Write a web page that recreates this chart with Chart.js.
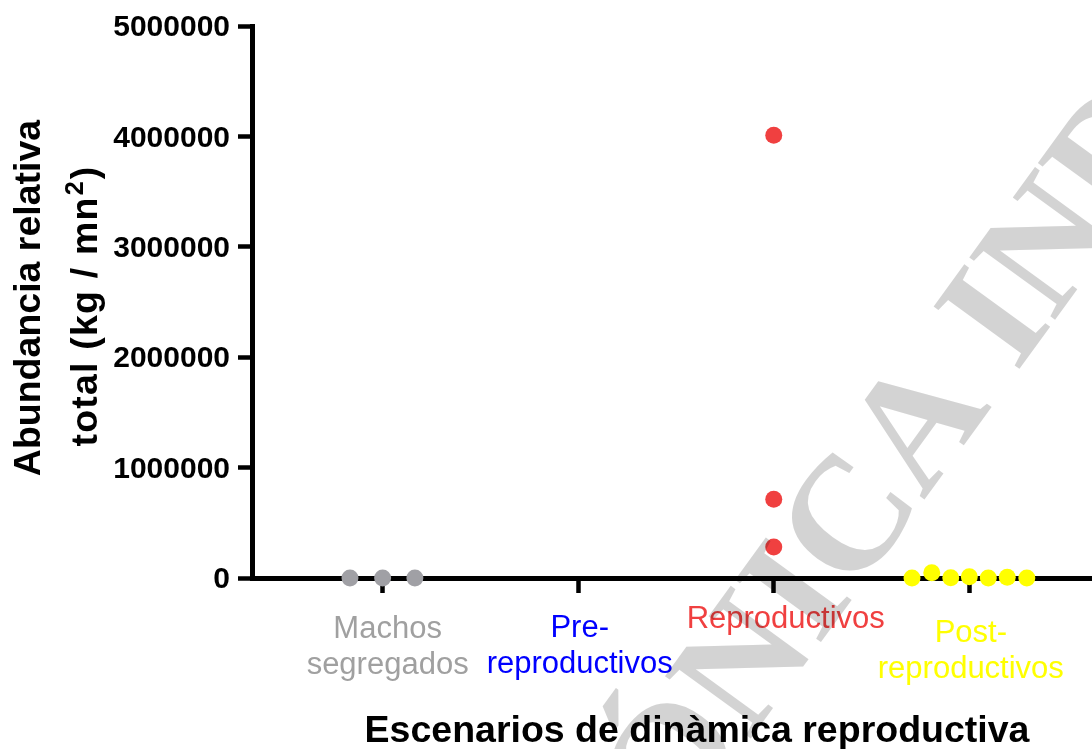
<!DOCTYPE html>
<html lang="es">
<head>
<meta charset="utf-8">
<title>Abundancia relativa total por escenario reproductivo</title>
<script src="https://cdn.jsdelivr.net/npm/chart.js@4/dist/chart.umd.min.js"></script>
<style>
  html, body { margin: 0; padding: 0; background: #ffffff; overflow: hidden; }
  #wrap { width: 1142px; height: 749px; }
  canvas { display: block; }
</style>
</head>
<body>
<div id="wrap"><canvas id="chart" width="1142" height="749"></canvas></div>
<script>
// Scenario categories (x positions 0..3) and their label text
const categories = ['Machos segregados', 'Pre-reproductivos', 'Reproductivos', 'Post-reproductivos'];
const categoryLines = [['Machos', 'segregados'], ['Pre-', 'reproductivos'], ['Reproductivos'], ['Post-', 'reproductivos']];

// Individual observations (x = category index with horizontal jitter, y = kg / mn²)
const machosX = [-0.167, 0, 0.165];
const machosY = [0, 0, 0];
const preX = [];
const preY = [];
const reproX = [2, 2, 2];
const reproY = [4010000, 713000, 281000];
const postX = [2.707, 2.808, 2.905, 3, 3.097, 3.194, 3.294];
const postY = [0, 47000, 2000, 11000, 0, 7000, 0];

// Y axis tick values
const yTicks = [0, 1000000, 2000000, 3000000, 4000000, 5000000];

const seriesColors = ['#a0a0a5', '#0000ff', '#f04040', '#ffff00'];
const labelColors = ['#a0a0a0', '#0000ff', '#f04040', '#ffff00'];
// Per-category label placement: horizontal nudge and first-line baseline below the axis
const labelNudgeX = [5, 1.5, 12, 1.5];
const labelBaseline = [60, 59, 50, 64];

function points(xs, ys) {
  return xs.map((x, i) => ({ x: x, y: ys[i] }));
}

const SANS = "'Liberation Sans', Arial, Helvetica, sans-serif";
Chart.defaults.font.family = SANS;
Chart.defaults.color = '#000000';

// White page, category labels, y-axis title with superscript, and the grey diagonal stamp
const paperPlugin = {
  id: 'paper',
  beforeDraw(chart) {
    const ctx = chart.ctx;
    ctx.save();
    ctx.fillStyle = '#ffffff';
    ctx.fillRect(0, 0, chart.width, chart.height);
    ctx.restore();
  },
  afterDraw(chart) {
    const ctx = chart.ctx;
    const xs = chart.scales.x;
    const area = chart.chartArea;

    // category labels under each tick
    ctx.save();
    ctx.font = '31px ' + SANS;
    ctx.textAlign = 'center';
    ctx.textBaseline = 'alphabetic';
    categoryLines.forEach((lines, i) => {
      const cx = xs.getPixelForValue(i) + labelNudgeX[i];
      ctx.fillStyle = labelColors[i];
      lines.forEach((line, k) => {
        ctx.fillText(line, cx, area.bottom + labelBaseline[i] + k * 36);
      });
    });
    ctx.restore();

    // y-axis title, two rotated lines; the second carries a superscript 2
    const midY = (area.top + area.bottom) / 2;
    ctx.save();
    ctx.fillStyle = '#000000';
    ctx.textBaseline = 'alphabetic';
    ctx.font = 'bold 37.5px ' + SANS;
    ctx.translate(40, midY - 4);
    ctx.rotate(-Math.PI / 2);
    ctx.textAlign = 'center';
    ctx.fillText('Abundancia relativa', 0, 0);
    ctx.restore();

    ctx.save();
    ctx.fillStyle = '#000000';
    ctx.textBaseline = 'alphabetic';
    ctx.textAlign = 'left';
    if ('letterSpacing' in ctx) ctx.letterSpacing = '1.2px';
    const mainFont = 'bold 37.5px ' + SANS;
    const supFont = 'bold 25px ' + SANS;
    const partA = 'total (kg / mn';
    const partSup = '2';
    const partB = ')';
    ctx.font = mainFont;
    const wA = ctx.measureText(partA).width;
    const wB = ctx.measureText(partB).width;
    ctx.font = supFont;
    const wS = ctx.measureText(partSup).width + 2;
    const total = wA + wS + wB;
    ctx.translate(97, midY + 4);
    ctx.rotate(-Math.PI / 2);
    const x0 = -total / 2;
    ctx.font = mainFont;
    ctx.fillText(partA, x0, 0);
    ctx.font = supFont;
    ctx.fillText(partSup, x0 + wA + 1, -14);
    ctx.font = mainFont;
    ctx.fillText(partB, x0 + wA + wS, 0);
    ctx.restore();

    // diagonal stamp, blended so marks underneath stay visible
    const text = 'ELECTRÓNICA INDIZADA';
    const size = 162;
    ctx.save();
    ctx.globalCompositeOperation = 'multiply';
    ctx.fillStyle = '#d3d3d3';
    ctx.font = 'bold ' + size + "px 'Liberation Serif', 'DejaVu Serif', serif";
    const lead = ctx.measureText('ELECTR').width;
    const oWidth = ctx.measureText('Ó').width;
    ctx.translate(712, 792);
    ctx.rotate(-54 * Math.PI / 180);
    ctx.textBaseline = 'alphabetic';
    ctx.textAlign = 'left';
    ctx.fillText(text, -(lead + oWidth / 2), 0);
    ctx.restore();
  }
};

new Chart(document.getElementById('chart'), {
  type: 'scatter',
  data: {
    datasets: [
      { label: categories[0], data: points(machosX, machosY), backgroundColor: seriesColors[0] },
      { label: categories[1], data: points(preX, preY), backgroundColor: seriesColors[1] },
      { label: categories[2], data: points(reproX, reproY), backgroundColor: seriesColors[2] },
      { label: categories[3], data: points(postX, postY), backgroundColor: seriesColors[3] }
    ].map(d => Object.assign(d, { pointRadius: 8.5, pointHoverRadius: 8.5, borderWidth: 0, clip: false }))
  },
  options: {
    responsive: false,
    animation: false,
    devicePixelRatio: 1,
    events: [],
    layout: { autoPadding: false, padding: { top: 23, right: 0, bottom: 0, left: 0 } },
    plugins: { legend: { display: false }, tooltip: { enabled: false } },
    scales: {
      x: {
        type: 'linear',
        min: -0.668,
        max: 3.883,
        afterBuildTicks(scale) { scale.ticks = categories.map((c, i) => ({ value: i })); },
        afterFit(scale) { scale.height = 171; },
        border: { display: true, color: '#000000', width: 5 },
        grid: { display: true, drawOnChartArea: false, drawTicks: true, tickLength: 15, tickWidth: 4.5, tickColor: '#000000' },
        ticks: { display: false },
        title: {
          display: true,
          text: 'Escenarios de dinàmica reproductiva',
          color: '#000000',
          font: { size: 37.5, weight: 'bold', lineHeight: 1 },
          padding: { top: 0, bottom: -1.5 }
        }
      },
      y: {
        type: 'linear',
        min: 0,
        max: 5000000,
        afterBuildTicks(scale) { scale.ticks = yTicks.map(v => ({ value: v })); },
        afterFit(scale) { scale.width = 252; },
        border: { display: true, color: '#000000', width: 5 },
        grid: { display: true, drawOnChartArea: false, drawTicks: true, tickLength: 14, tickWidth: 4.5, tickColor: '#000000' },
        ticks: {
          padding: 8,
          labelOffset: 2,
          font: { size: 30, weight: 'bold' },
          color: '#000000',
          callback: (value) => String(value)
        }
      }
    }
  },
  plugins: [paperPlugin]
});
</script>
</body>
</html>
